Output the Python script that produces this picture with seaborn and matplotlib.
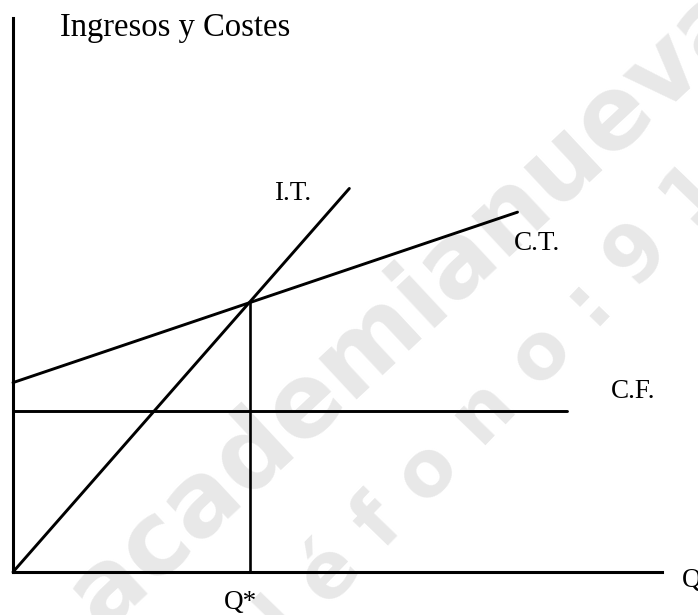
import pandas as pd
import matplotlib.pyplot as plt
import seaborn as sns

# Break-even chart: ingresos totales, costes totales y costes fijos
# (arbitrary units)
it_q = [0, 14.2]          # Ingresos totales
it_v = [0, 16.2]
ct_q = [0, 21.3]          # Costes totales
ct_v = [8.0, 15.2]
cf_q = [0, 23.4]          # Costes fijos
cf_v = [6.8, 6.8]
q_star = 10.0             # punto muerto
v_star = 11.4

labels = ['I.T.', 'C.T.', 'C.F.']
y_title = 'Ingresos y Costes'
x_title = 'Q'
q_label = 'Q*'
watermark = ['academianueva', 't e l é f o n o : 9 1']

sns.set_style('white')
plt.rcParams['text.color'] = 'black'

fig = plt.figure(figsize=(6.98, 6.15), dpi=100)
ax = fig.add_axes([13 / 698, 43 / 615, 649 / 698, 554 / 615])
ax.set_facecolor('none')

# watermark behind everything
ax.text(0.147, -0.028, watermark[0], transform=fig.transFigure, rotation=43,
        rotation_mode='anchor', ha='left', va='baseline', fontsize=73,
        fontweight='bold', family='DejaVu Sans', color='#e8e8e8', zorder=0,
        clip_on=False)
ax.text(0.272, -0.221, watermark[1], transform=fig.transFigure, rotation=46,
        rotation_mode='anchor', ha='left', va='baseline', fontsize=56,
        fontweight='bold', family='DejaVu Sans', color='#e8e8e8', zorder=0,
        clip_on=False)

lines = pd.DataFrame({
    'q': it_q + ct_q + cf_q,
    'valor': it_v + ct_v + cf_v,
    'curva': [labels[0]] * 2 + [labels[1]] * 2 + [labels[2]] * 2,
})
sns.lineplot(data=lines, x='q', y='valor', hue='curva', units='curva',
             estimator=None, sort=False, palette=['black'] * 3,
             linewidth=2.1, legend=False, ax=ax, zorder=3)
sns.lineplot(x=[q_star, q_star], y=[0, v_star], estimator=None, sort=False,
             color='black', linewidth=1.9, ax=ax, zorder=3)
for l in ax.lines:
    l.set_clip_on(False)

ax.set_xlim(0, 27.4)
ax.set_ylim(0, 23.4)
ax.set_xticks([])
ax.set_yticks([])
ax.set_xlabel('')
ax.set_ylabel('')
sns.despine(ax=ax)
for s in ['left', 'bottom']:
    ax.spines[s].set_linewidth(2.2)
    ax.spines[s].set_color('black')
    ax.spines[s].set_zorder(4)

serif = 'Liberation Serif'
ax.text(1.98, 23.0, y_title, fontsize=23.5, family=serif, ha='left', va='center')
ax.text(11.81, 15.99, labels[0], fontsize=19.5, family=serif, ha='center', va='center')
ax.text(22.11, 13.88, labels[1], fontsize=19.5, family=serif, ha='center', va='center')
ax.text(26.16, 7.64, labels[2], fontsize=19.5, family=serif, ha='center', va='center')
ax.text(q_star - 0.38, -1.56, q_label, fontsize=19.5, family=serif, ha='center',
        va='baseline', clip_on=False)
ax.text(28.23, -0.63, x_title, fontsize=19.5, family=serif, ha='left',
        va='baseline', clip_on=False)

fig.savefig('out.png', dpi=100)
